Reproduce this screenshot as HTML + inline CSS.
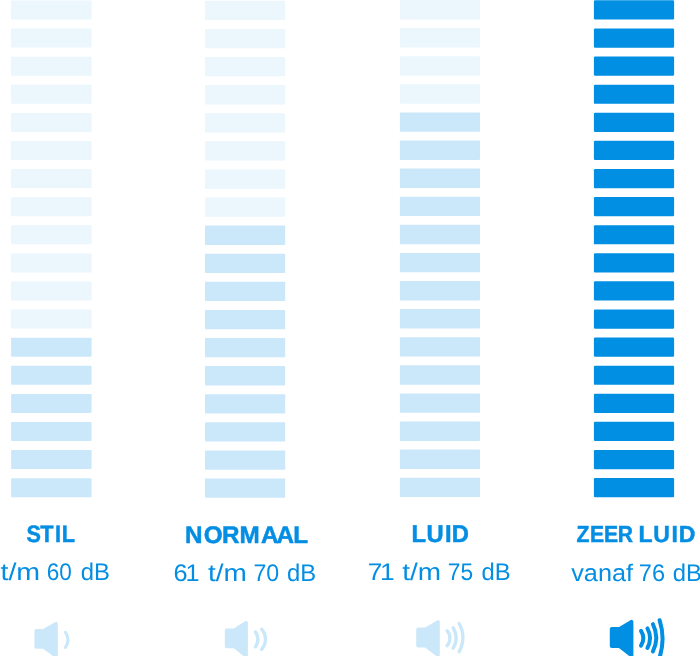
<!DOCTYPE html>
<html lang="nl"><head><meta charset="utf-8"><title>Geluidsniveau</title>
<style>
html,body{margin:0;padding:0;background:#fff;}
body{width:700px;height:656px;overflow:hidden;}
svg{display:block;}
text{text-rendering:geometricPrecision;font-family:"Liberation Sans",sans-serif;font-size:24px;fill:#048ee3;}
.b{font-weight:700;stroke:#048ee3;stroke-width:.5px;}
.r{font-weight:400;}
</style></head><body>
<svg width="700" height="656" viewBox="0 0 700 656">

<rect x="11.1" y="0.50" width="80.5" height="19.0" fill="#ebf6fd" rx="0.8"/>
<rect x="11.1" y="28.60" width="80.5" height="19.0" fill="#ebf6fd" rx="0.8"/>
<rect x="11.1" y="56.70" width="80.5" height="19.0" fill="#ebf6fd" rx="0.8"/>
<rect x="11.1" y="84.80" width="80.5" height="19.0" fill="#ebf6fd" rx="0.8"/>
<rect x="11.1" y="112.90" width="80.5" height="19.0" fill="#ebf6fd" rx="0.8"/>
<rect x="11.1" y="141.00" width="80.5" height="19.0" fill="#ebf6fd" rx="0.8"/>
<rect x="11.1" y="169.10" width="80.5" height="19.0" fill="#ebf6fd" rx="0.8"/>
<rect x="11.1" y="197.20" width="80.5" height="19.0" fill="#ebf6fd" rx="0.8"/>
<rect x="11.1" y="225.30" width="80.5" height="19.0" fill="#ebf6fd" rx="0.8"/>
<rect x="11.1" y="253.40" width="80.5" height="19.0" fill="#ebf6fd" rx="0.8"/>
<rect x="11.1" y="281.50" width="80.5" height="19.0" fill="#ebf6fd" rx="0.8"/>
<rect x="11.1" y="309.60" width="80.5" height="19.0" fill="#ebf6fd" rx="0.8"/>
<rect x="11.1" y="337.70" width="80.5" height="19.0" fill="#cbe8fa" rx="0.8"/>
<rect x="11.1" y="365.80" width="80.5" height="19.0" fill="#cbe8fa" rx="0.8"/>
<rect x="11.1" y="393.90" width="80.5" height="19.0" fill="#cbe8fa" rx="0.8"/>
<rect x="11.1" y="422.00" width="80.5" height="19.0" fill="#cbe8fa" rx="0.8"/>
<rect x="11.1" y="450.10" width="80.5" height="19.0" fill="#cbe8fa" rx="0.8"/>
<rect x="11.1" y="478.20" width="80.5" height="19.0" fill="#cbe8fa" rx="0.8"/>
<rect x="205.0" y="0.80" width="80.2" height="19.3" fill="#ebf6fd" rx="0.8"/>
<rect x="205.0" y="28.90" width="80.2" height="19.3" fill="#ebf6fd" rx="0.8"/>
<rect x="205.0" y="57.00" width="80.2" height="19.3" fill="#ebf6fd" rx="0.8"/>
<rect x="205.0" y="85.10" width="80.2" height="19.3" fill="#ebf6fd" rx="0.8"/>
<rect x="205.0" y="113.20" width="80.2" height="19.3" fill="#ebf6fd" rx="0.8"/>
<rect x="205.0" y="141.30" width="80.2" height="19.3" fill="#ebf6fd" rx="0.8"/>
<rect x="205.0" y="169.40" width="80.2" height="19.3" fill="#ebf6fd" rx="0.8"/>
<rect x="205.0" y="197.50" width="80.2" height="19.3" fill="#ebf6fd" rx="0.8"/>
<rect x="205.0" y="225.60" width="80.2" height="19.3" fill="#cbe8fa" rx="0.8"/>
<rect x="205.0" y="253.70" width="80.2" height="19.3" fill="#cbe8fa" rx="0.8"/>
<rect x="205.0" y="281.80" width="80.2" height="19.3" fill="#cbe8fa" rx="0.8"/>
<rect x="205.0" y="309.90" width="80.2" height="19.3" fill="#cbe8fa" rx="0.8"/>
<rect x="205.0" y="338.00" width="80.2" height="19.3" fill="#cbe8fa" rx="0.8"/>
<rect x="205.0" y="366.10" width="80.2" height="19.3" fill="#cbe8fa" rx="0.8"/>
<rect x="205.0" y="394.20" width="80.2" height="19.3" fill="#cbe8fa" rx="0.8"/>
<rect x="205.0" y="422.30" width="80.2" height="19.3" fill="#cbe8fa" rx="0.8"/>
<rect x="205.0" y="450.40" width="80.2" height="19.3" fill="#cbe8fa" rx="0.8"/>
<rect x="205.0" y="478.50" width="80.2" height="19.3" fill="#cbe8fa" rx="0.8"/>
<rect x="399.9" y="0.00" width="80.1" height="19.4" fill="#ebf6fd" rx="0.8"/>
<rect x="399.9" y="28.10" width="80.1" height="19.4" fill="#ebf6fd" rx="0.8"/>
<rect x="399.9" y="56.20" width="80.1" height="19.4" fill="#ebf6fd" rx="0.8"/>
<rect x="399.9" y="84.30" width="80.1" height="19.4" fill="#ebf6fd" rx="0.8"/>
<rect x="399.9" y="112.40" width="80.1" height="19.4" fill="#cbe8fa" rx="0.8"/>
<rect x="399.9" y="140.50" width="80.1" height="19.4" fill="#cbe8fa" rx="0.8"/>
<rect x="399.9" y="168.60" width="80.1" height="19.4" fill="#cbe8fa" rx="0.8"/>
<rect x="399.9" y="196.70" width="80.1" height="19.4" fill="#cbe8fa" rx="0.8"/>
<rect x="399.9" y="224.80" width="80.1" height="19.4" fill="#cbe8fa" rx="0.8"/>
<rect x="399.9" y="252.90" width="80.1" height="19.4" fill="#cbe8fa" rx="0.8"/>
<rect x="399.9" y="281.00" width="80.1" height="19.4" fill="#cbe8fa" rx="0.8"/>
<rect x="399.9" y="309.10" width="80.1" height="19.4" fill="#cbe8fa" rx="0.8"/>
<rect x="399.9" y="337.20" width="80.1" height="19.4" fill="#cbe8fa" rx="0.8"/>
<rect x="399.9" y="365.30" width="80.1" height="19.4" fill="#cbe8fa" rx="0.8"/>
<rect x="399.9" y="393.40" width="80.1" height="19.4" fill="#cbe8fa" rx="0.8"/>
<rect x="399.9" y="421.50" width="80.1" height="19.4" fill="#cbe8fa" rx="0.8"/>
<rect x="399.9" y="449.60" width="80.1" height="19.4" fill="#cbe8fa" rx="0.8"/>
<rect x="399.9" y="477.70" width="80.1" height="19.4" fill="#cbe8fa" rx="0.8"/>
<rect x="593.9" y="0.35" width="80.2" height="19.2" fill="#008fe3" rx="1.2"/>
<rect x="593.9" y="28.45" width="80.2" height="19.2" fill="#008fe3" rx="1.2"/>
<rect x="593.9" y="56.55" width="80.2" height="19.2" fill="#008fe3" rx="1.2"/>
<rect x="593.9" y="84.65" width="80.2" height="19.2" fill="#008fe3" rx="1.2"/>
<rect x="593.9" y="112.75" width="80.2" height="19.2" fill="#008fe3" rx="1.2"/>
<rect x="593.9" y="140.85" width="80.2" height="19.2" fill="#008fe3" rx="1.2"/>
<rect x="593.9" y="168.95" width="80.2" height="19.2" fill="#008fe3" rx="1.2"/>
<rect x="593.9" y="197.05" width="80.2" height="19.2" fill="#008fe3" rx="1.2"/>
<rect x="593.9" y="225.15" width="80.2" height="19.2" fill="#008fe3" rx="1.2"/>
<rect x="593.9" y="253.25" width="80.2" height="19.2" fill="#008fe3" rx="1.2"/>
<rect x="593.9" y="281.35" width="80.2" height="19.2" fill="#008fe3" rx="1.2"/>
<rect x="593.9" y="309.45" width="80.2" height="19.2" fill="#008fe3" rx="1.2"/>
<rect x="593.9" y="337.55" width="80.2" height="19.2" fill="#008fe3" rx="1.2"/>
<rect x="593.9" y="365.65" width="80.2" height="19.2" fill="#008fe3" rx="1.2"/>
<rect x="593.9" y="393.75" width="80.2" height="19.2" fill="#008fe3" rx="1.2"/>
<rect x="593.9" y="421.85" width="80.2" height="19.2" fill="#008fe3" rx="1.2"/>
<rect x="593.9" y="449.95" width="80.2" height="19.2" fill="#008fe3" rx="1.2"/>
<rect x="593.9" y="478.05" width="80.2" height="19.2" fill="#008fe3" rx="1.2"/>
<g><text class="b" transform="translate(0 542) scale(0.9021 0.988)" x="29.36 44.60 60.96 68.44">STIL</text></g>
<g><text class="b" transform="translate(0 543) scale(1.0103 1.000)" x="183.16 201.69 219.81 237.05 258.30 273.64 290.21">NORMAAL</text></g>
<g><text class="b" transform="translate(0 542) scale(0.9898 1.015)" x="415.82 430.99 449.50 456.35">LUID</text></g>
<g><text class="b" transform="translate(0 542) scale(0.8800 0.964)" x="655.05 670.58 686.49 702.14">ZEER</text> <text class="b" transform="translate(0 542) scale(0.9586 0.964)" x="665.96 681.50 700.64 708.05">LUID</text></g>
<g><text class="r" transform="translate(0.47 580) scale(1.1911 1.000)">t/m</text> <text class="r" transform="translate(46.66 580) scale(0.9406 1.000)">60</text> <text class="r" transform="translate(80.71 580) scale(0.9926 1.000)">dB</text></g>
<g><text class="r" transform="translate(0 581) scale(1.0550 1.000)" x="164.57 175.94">61</text> <text class="r" transform="translate(207.88 581) scale(1.1656 1.000)">t/m</text> <text class="r" transform="translate(253.41 581) scale(0.9658 1.000)">70</text> <text class="r" transform="translate(287.01 581) scale(0.9926 1.000)">dB</text></g>
<g><text class="r" transform="translate(0 580) scale(1.0989 1.000)" x="334.65 345.90">71</text> <text class="r" transform="translate(402.28 580) scale(1.1656 1.000)">t/m</text> <text class="r" transform="translate(447.73 580) scale(0.9485 1.000)">75</text> <text class="r" transform="translate(481.41 580) scale(0.9926 1.000)">dB</text></g>
<g><text class="r" transform="translate(571.22 581) scale(1.0516 1.000)">vanaf</text> <text class="r" transform="translate(638.79 581) scale(0.9828 1.000)">76</text> <text class="r" transform="translate(672.71 581) scale(0.9926 1.000)">dB</text></g>
<path d="M36.20 630.90 L43.38 630.90 L56.00 623.70 L56.00 655.97 L43.48 646.90 L36.20 646.90 Z" fill="#cbe8fa" stroke="#cbe8fa" stroke-width="3.6" stroke-linejoin="round"/>
<path d="M65.5 632.4 A12.50 12.50 0 0 1 65.5 647.4" fill="none" stroke="#cbe8fa" stroke-width="3.2" stroke-linecap="round"/>
<path d="M226.60 630.30 L234.22 630.30 L246.10 622.77 L246.10 655.77 L234.33 646.40 L226.60 646.40 Z" fill="#cbe8fa" stroke="#cbe8fa" stroke-width="3.6" stroke-linejoin="round"/>
<path d="M255.5 632.0 A13.55 13.55 0 0 1 255.5 646.8" fill="none" stroke="#cbe8fa" stroke-width="3.4" stroke-linecap="round"/>
<path d="M261.6 629.2 A14.90 14.90 0 0 1 261.6 649.3" fill="none" stroke="#cbe8fa" stroke-width="3.4" stroke-linecap="round"/>
<path d="M418.00 629.40 L425.70 629.40 L438.00 621.99 L438.00 655.07 L425.81 645.80 L418.00 645.80 Z" fill="#cbe8fa" stroke="#cbe8fa" stroke-width="3.6" stroke-linejoin="round"/>
<path d="M447.1 630.7 A11.44 11.44 0 0 1 447.1 645.7" fill="none" stroke="#cbe8fa" stroke-width="3.4" stroke-linecap="round"/>
<path d="M453.1 627.9 A18.50 18.50 0 0 1 453.1 648.1" fill="none" stroke="#cbe8fa" stroke-width="3.4" stroke-linecap="round"/>
<path d="M459.1 623.5 A28.06 28.06 0 0 1 459.1 651.7" fill="none" stroke="#cbe8fa" stroke-width="3.4" stroke-linecap="round"/>
<path d="M611.80 629.10 L619.35 629.10 L631.40 621.92 L631.40 655.15 L619.48 646.00 L611.80 646.00 Z" fill="#008fe3" stroke="#008fe3" stroke-width="4.0" stroke-linejoin="round"/>
<path d="M641.0 630.9 A13.55 13.55 0 0 1 641.0 645.7" fill="none" stroke="#008fe3" stroke-width="4.0" stroke-linecap="round"/>
<path d="M647.4 628.4 A20.46 20.46 0 0 1 647.4 648.0" fill="none" stroke="#008fe3" stroke-width="4.0" stroke-linecap="round"/>
<path d="M652.9 624.2 A30.50 30.50 0 0 1 652.9 651.4" fill="none" stroke="#008fe3" stroke-width="4.0" stroke-linecap="round"/>
<path d="M659.6 620.2 A61.42 61.42 0 0 1 659.6 657.5" fill="none" stroke="#008fe3" stroke-width="4.0" stroke-linecap="round"/>
</svg></body></html>
